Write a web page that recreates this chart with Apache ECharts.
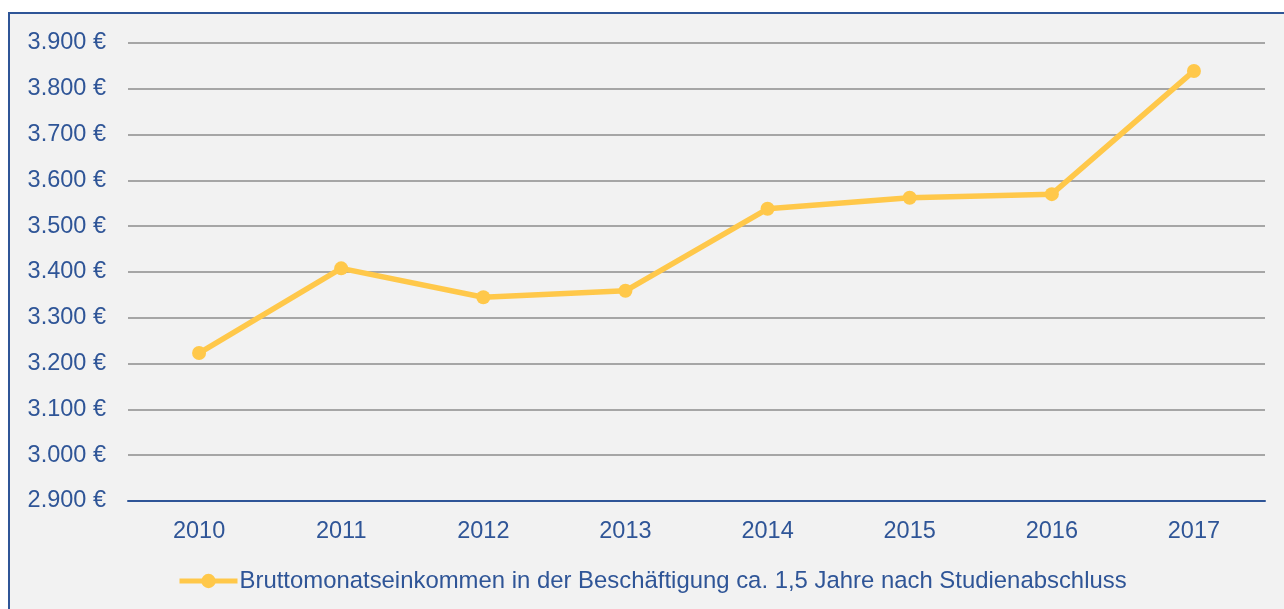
<!DOCTYPE html>
<html>
<head>
<meta charset="utf-8">
<script src="https://cdn.jsdelivr.net/npm/echarts@6/dist/echarts.min.js"></script>
<style>
  html, body { margin: 0; padding: 0; background: #ffffff; }
  #chart { width: 1284px; height: 609px; }
</style>
</head>
<body>
<div id="chart"></div>
<script>
// Years and average gross monthly income (EUR)
const years = ['2010', '2011', '2012', '2013', '2014', '2015', '2016', '2017'];
const income = [3223, 3408, 3345, 3359, 3538, 3562, 3570, 3839];
const seriesName = 'Bruttomonatseinkommen in der Beschäftigung ca. 1,5 Jahre nach Studienabschluss';

const textColor = '#2F5597';
const lineColor = '#FFC84A';
const font = '"Liberation Sans", Arial, sans-serif';

const fmtEuro = v => v.toString().replace(/\B(?=(\d{3})+(?!\d))/g, '.') + ' €';

const chart = echarts.init(document.getElementById('chart'), null, { renderer: 'canvas' });
chart.setOption({
  backgroundColor: '#ffffff',
  animation: false,
  textStyle: { fontFamily: font },
  graphic: [{
    type: 'rect',
    z: -10,
    silent: true,
    shape: { x: 9, y: 13, width: 1300, height: 620 },
    style: { fill: '#F2F2F2', stroke: textColor, lineWidth: 2 }
  }],
  grid: { left: 128, right: 19, top: 43, bottom: 108 },
  legend: {
    top: 564,
    left: 172,
    itemWidth: 58,
    itemHeight: 18,
    lineStyle: { width: 5 },
    textStyle: { color: textColor, fontSize: 23.9, fontFamily: font, padding: [0, 0, 0, -3] },
    data: [{ name: seriesName, itemStyle: { color: lineColor } }]
  },
  xAxis: {
    type: 'category',
    data: years,
    boundaryGap: true,
    axisLine: { lineStyle: { color: textColor, width: 2 } },
    axisTick: { show: false },
    axisLabel: { color: textColor, fontSize: 23.5, margin: 19, fontFamily: font }
  },
  yAxis: {
    type: 'value',
    min: 2900,
    max: 3900,
    interval: 100,
    axisLine: { show: false },
    axisTick: { show: false },
    axisLabel: { color: textColor, fontSize: 23.5, margin: 22, fontFamily: font, formatter: fmtEuro },
    splitLine: { lineStyle: { color: '#A6A6A6', width: 2 } }
  },
  series: [{
    name: seriesName,
    type: 'line',
    data: income,
    symbol: 'circle',
    symbolSize: 14,
    lineStyle: { color: lineColor, width: 5.5 },
    itemStyle: { color: lineColor }
  }]
});
</script>
</body>
</html>
